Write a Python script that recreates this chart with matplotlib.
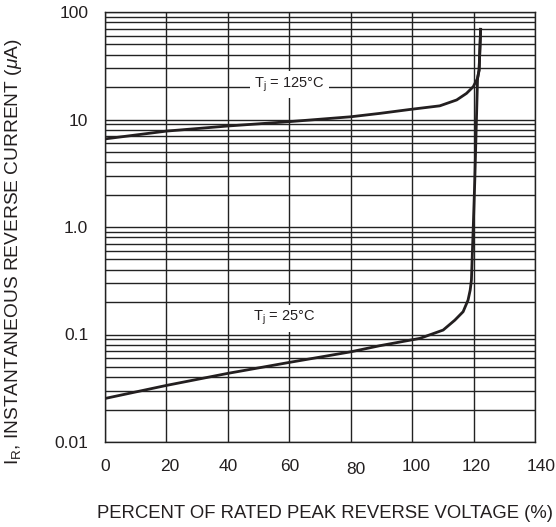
import matplotlib
matplotlib.use("Agg")
import matplotlib.pyplot as plt
from matplotlib.ticker import FixedLocator, NullFormatter, LogLocator
from matplotlib.transforms import ScaledTranslation

plt.rcParams['font.family'] = ['Liberation Sans', 'DejaVu Sans']
plt.rcParams['mathtext.fontset'] = 'custom'
plt.rcParams['mathtext.rm'] = 'Liberation Sans'
plt.rcParams['mathtext.it'] = 'Liberation Sans:italic'

# curve points
v_125 = [0, 20, 40, 60, 80, 89.5, 99.3, 109, 114.5, 117.7, 119.9, 121.3, 121.8, 122.3]
i_125 = [6.6, 7.8, 8.7, 9.55, 10.6, 11.4, 12.4, 13.4, 15.2, 17.5, 20.2, 24.2, 28.8, 69]

v_25 = [0, 20, 40, 60, 80, 89.5, 102.5, 110.1, 113.9, 116.6, 118.2, 118.9, 119.3,
        119.9, 120.4, 121.3, 121.8, 122.3]
i_25 = [0.0254, 0.0336, 0.0435, 0.055, 0.069, 0.0787, 0.092, 0.110, 0.136, 0.163,
        0.209, 0.259, 0.321, 1.0, 2.73, 24.2, 28.8, 69]

x_ticks = [0, 20, 40, 60, 80, 100, 120, 140]
y_ticks = [0.01, 0.1, 1.0, 10, 100]
y_labels = ["0.01", "0.1", "1.0", "10", "100"]

fig = plt.figure(figsize=(5.56, 5.27), dpi=100)
ax = fig.add_axes([105 / 556, 1 - 442 / 527, 430 / 556, 430 / 527])

ax.set_yscale('log')
ax.set_xlim(0, 140)
ax.set_ylim(0.01, 100)

ax.xaxis.set_major_locator(FixedLocator(x_ticks))
ax.set_xticklabels([str(t) for t in x_ticks])
ax.yaxis.set_major_locator(FixedLocator(y_ticks))
ax.set_yticklabels(y_labels)
ax.yaxis.set_minor_locator(LogLocator(base=10, subs=range(2, 10)))
ax.yaxis.set_minor_formatter(NullFormatter())

ax.grid(True, which='major', color='#222222', lw=1.0)
ax.grid(True, which='minor', axis='y', color='#222222', lw=1.0)
ax.tick_params(which='both', length=0, labelsize=12.5, colors='#231f20')
ax.tick_params(axis='x', pad=12)
ax.tick_params(axis='y', pad=12)

# the printed labels drift a bit to the right, "80" sits lower
x_shift = [0, 3, 0, 0, 5, 4, 3, 6]
for lbl, dx in zip(ax.get_xticklabels(), x_shift):
    lbl.set_transform(lbl.get_transform() + ScaledTranslation(dx / 100, 0, fig.dpi_scale_trans))
ax.get_xticklabels()[4].set_y(-0.008)

for s in ax.spines.values():
    s.set_color('#222222')
    s.set_linewidth(1.0)

ax.plot(v_25, i_25, color='#231f20', lw=2.0, zorder=3)
ax.plot(v_125, i_125, color='#231f20', lw=2.0, zorder=3)

ax.text(60, 21, r"T$_\mathregular{j}$ = 125°C", fontsize=10.5, ha='center', va='center',
        color='#231f20', zorder=4,
        bbox=dict(facecolor='white', edgecolor='none', pad=3))
ax.text(58.5, 0.142, r"T$_\mathregular{j}$ = 25°C", fontsize=10.5, ha='center', va='center',
        color='#231f20', zorder=4,
        bbox=dict(facecolor='white', edgecolor='none', pad=3))

fig.text(325 / 556, 1 - 513 / 527, "PERCENT OF RATED PEAK REVERSE VOLTAGE (%)",
         fontsize=13.3, ha='center', va='center', color='#231f20')
fig.text(14 / 556, 1 - 252 / 527,
         r"I$_\mathregular{R}$, INSTANTANEOUS REVERSE CURRENT ($\mu$A)",
         fontsize=13.8, ha='center', va='center', rotation=90, color='#231f20')

fig.savefig("out.png", dpi=100)
